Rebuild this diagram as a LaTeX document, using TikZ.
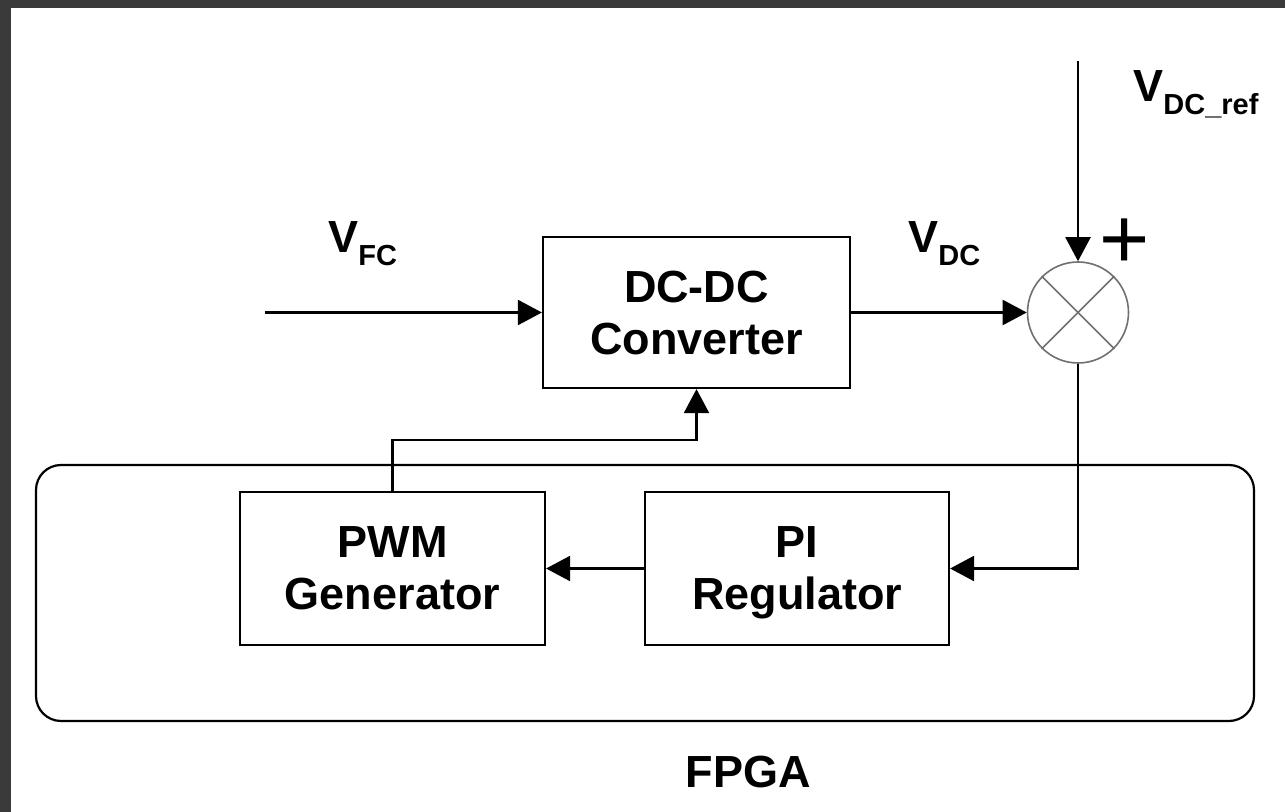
\documentclass[tikz,border=0pt]{standalone}
\usepackage{fontspec}
\setmainfont{Liberation Sans}
\usetikzlibrary{arrows.meta}
\definecolor{frame}{HTML}{3A3A3A}
\definecolor{sumgray}{HTML}{707070}
\tikzset{
  blk/.style={draw, line width=1.1pt, inner sep=0pt, align=center, text depth=0pt,
    font=\bfseries\fontsize{22.5}{26}\selectfont},
  arr/.style={line width=1.1pt, -{Triangle[length=12pt,width=12.5pt]}},
  wire/.style={line width=1.1pt},
  lbl/.style={inner sep=0pt, anchor=base west, font=\bfseries\fontsize{22.5}{26}\selectfont},
}
\newcommand{\subs}[1]{\raisebox{-6.5pt}{\fontsize{14.5}{14.5}\selectfont #1}}
\begin{document}
\begin{tikzpicture}[x=0.5pt,y=-0.5pt]
\useasboundingbox (0,0) rectangle (1285,812);
\fill[white] (0,0) rectangle (1285,812);
\fill[frame] (0,0) rectangle (1285,8);
\fill[frame] (0,0) rectangle (11,812);

% FPGA region
\node[draw, line width=1.1pt, rounded corners=12.5pt, minimum width=609pt, minimum height=128pt, inner sep=0pt] (fpga) at (645,593) {};
\node[inner sep=0pt, anchor=base, font=\bfseries\fontsize{22.5}{26}\selectfont] (fpgalbl) at (748,787) {FPGA};

% blocks
\node[blk, minimum width=153.5pt, minimum height=75.5pt] (dc) at (696.5,312.5) {DC-DC\\Converter};
\node[blk, minimum width=152.5pt, minimum height=76.5pt] (pwm) at (392.5,568.5) {PWM\\Generator};
\node[blk, minimum width=152pt, minimum height=76.5pt] (pi) at (797,568.5) {PI\\Regulator};

% summing junction
\node[circle, draw=sumgray, line width=0.8pt, minimum size=50.5pt, inner sep=0pt] (sum) at (1078,312.5) {};
\draw[sumgray, line width=0.8pt] (sum.north west) -- (sum.south east);
\draw[sumgray, line width=0.8pt] (sum.north east) -- (sum.south west);

% labels
\node[lbl] (vfc) at (328,253) {V\subs{FC}};
\node[lbl] (vdc) at (908,253) {V\subs{DC}};
\node[lbl] (vref) at (1133,102) {V\subs{DC\_ref}};
\node[inner sep=0pt, anchor=base, font=\fontsize{43}{43}\selectfont] (plus) at (1125,269) {+};

% connectors
\coordinate (fcin) at (265,312.5);
\coordinate (refin) at (1078,61);
\draw[arr] (fcin) -- (dc.west);
\draw[arr] (dc.east) -- (sum.west);
\draw[arr] (refin) -- (sum.north);
\draw[arr] (sum.south) |- (pi.east);
\draw[arr] (pi.west) -- (pwm.east);
\draw[arr] (pwm.north) -- ++(0,-51) -| (dc.south);
\end{tikzpicture}
\end{document}
